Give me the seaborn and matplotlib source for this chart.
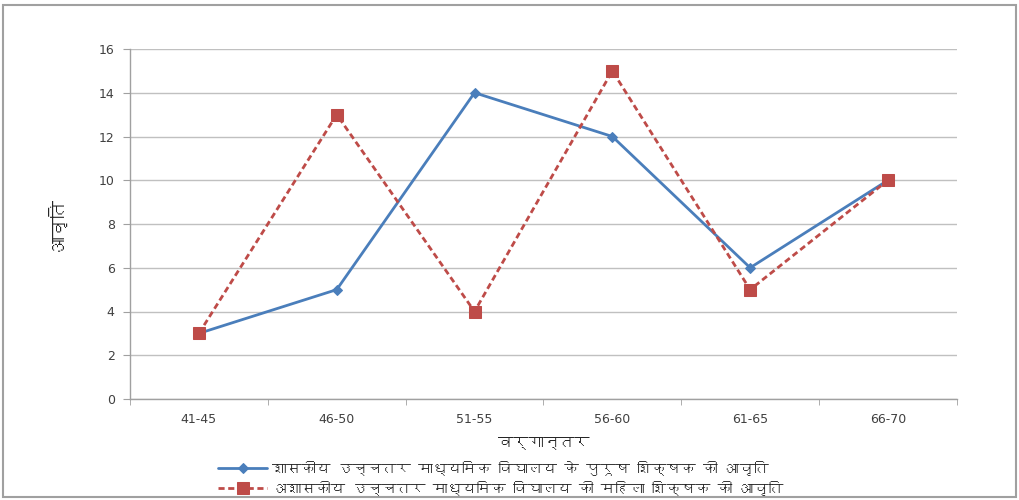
import numpy as np
import pandas as pd
import matplotlib
matplotlib.use("Agg")
import matplotlib.pyplot as plt
import seaborn as sns
from matplotlib import font_manager
from matplotlib.ft2font import FT2Font
from matplotlib.patches import Rectangle

classes = ["41-45", "46-50", "51-55", "56-60", "61-65", "66-70"]
male_govt = [3, 5, 14, 12, 6, 10]
female_private = [3, 13, 4, 15, 5, 10]

label_male = "शासकीय उच्चतर माध्यमिक विघालय के पुरूष शिक्षक की आवृति"
label_female = "अशासकीय उच्चतर माध्यमिक विघालय की महिला शिक्षक की आवृति"
xlabel = "वर्गान्तर"
ylabel = "आवृति"


def find_devanagari_font():
    for f in font_manager.fontManager.ttflist:
        try:
            cmap = FT2Font(f.fname).get_charmap()
        except Exception:
            continue
        if 0x0906 in cmap and 0x0915 in cmap:
            return f.name
    return None


sns.set_style("white")
plt.rcParams["font.family"] = ["DejaVu Sans"]
deva = find_devanagari_font()
hindi = ([deva] if deva else []) + ["DejaVu Sans"]

df = pd.DataFrame({"class": classes, "male": male_govt, "female": female_private})

fig = plt.figure(figsize=(10.19, 5.0), dpi=100)
ax = fig.add_axes([0.1276, 0.202, 0.8114, 0.70])

blue = "#4A7EBB"
red = "#BE4B48"

sns.lineplot(data=df, x="class", y="male", ax=ax, color=blue, linewidth=2,
             marker="D", markersize=5, markeredgecolor=blue, sort=False,
             label=label_male)
sns.lineplot(data=df, x="class", y="female", ax=ax, color=red, linewidth=2,
             linestyle=(0, (2.2, 1.3)), marker="s", markersize=8.5,
             markeredgecolor=red, sort=False, label=label_female)

ax.set_xlim(-0.5, len(classes) - 0.5)
ax.set_ylim(0, 16)
ax.set_yticks(np.arange(0, 17, 2))
ax.set_xticks(range(len(classes)))
ax.set_xticklabels(classes)
ax.set_xticks(np.arange(-0.5, len(classes), 1), minor=True)

ax.grid(axis="y", color="#C0C0C0", linewidth=1)
ax.set_axisbelow(True)
for s in ["top", "right"]:
    ax.spines[s].set_visible(False)
for s in ["left", "bottom"]:
    ax.spines[s].set_color("#A0A0A0")
    ax.spines[s].set_linewidth(1)

ax.tick_params(axis="y", which="major", length=5, color="#A0A0A0",
               labelsize=9, labelcolor="#404040", left=True, pad=6)
ax.tick_params(axis="x", which="major", length=0, labelsize=9,
               labelcolor="#404040", pad=10)
ax.tick_params(axis="x", which="minor", length=4, color="#A0A0A0", bottom=True)

ax.set_xlabel(xlabel, fontsize=11, labelpad=8, family=hindi)
ax.set_ylabel(ylabel, fontsize=13, labelpad=24, family=hindi)

ax.legend(loc="upper center", bbox_to_anchor=(0.448, -0.175), frameon=False,
          prop=font_manager.FontProperties(family=hindi, size=10.5),
          handlelength=3.4, labelspacing=0.35, borderaxespad=0,
          handletextpad=0.3, borderpad=0)

fig.patches.append(Rectangle((0.003, 0.006), 0.994, 0.984, transform=fig.transFigure,
                             fill=False, edgecolor="#A0A0A0", linewidth=1.5))

fig.savefig("out.png", dpi=100)
